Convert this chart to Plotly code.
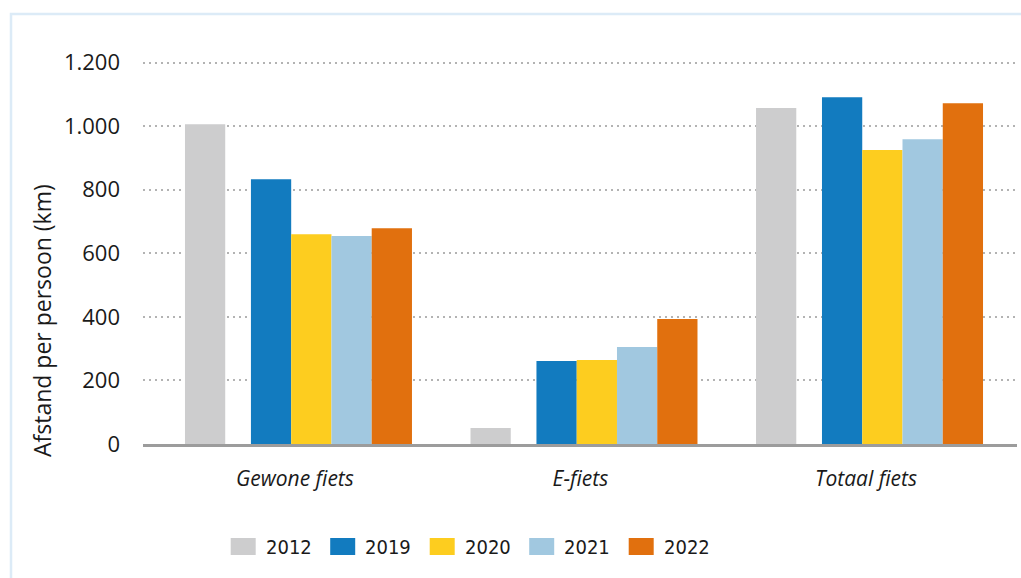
import plotly.graph_objects as go

categories = ["Gewone fiets", "E-fiets", "Totaal fiets"]
years = ["2012", "2019", "2020", "2021", "2022"]
values_2012 = [1006, 50, 1057]
values_2019 = [833, 261, 1091]
values_2020 = [660, 264, 925]
values_2021 = [654, 305, 959]
values_2022 = [679, 393, 1072]
series = [values_2012, values_2019, values_2020, values_2021, values_2022]
colors = ["#cdcdce", "#127bbf", "#fdcd1f", "#a1c8e0", "#e1700e"]
y_ticks = [0, 200, 400, 600, 800, 1000, 1200]
y_title = "Afstand per persoon (km)"

# layout geometry (pixels)
W, H = 1021, 578
ML, MR, MT, MB = 143, 4, 40, 134
PW, PH = W - ML - MR, H - MT - MB

offsets = [-0.385, -0.154, -0.013, 0.128, 0.269]
bar_width = 0.141

fig = go.Figure()
for yr, vals, col, off in zip(years, series, colors, offsets):
    fig.add_trace(go.Bar(
        x=categories, y=vals, name=yr, marker=dict(color=col, line=dict(width=0)),
        offset=off, width=bar_width, showlegend=False,
    ))

def px_x(px):
    return (px - ML) / PW

def px_y(py):
    return (H - MB - py) / PH

shapes = []
annotations = []
# outer light-blue frame
shapes.append(dict(type="rect", xref="paper", yref="paper",
                   x0=px_x(11), x1=px_x(W + 20), y0=px_y(H + 20), y1=px_y(14),
                   line=dict(color="#dcebf7", width=2.5), fillcolor="rgba(0,0,0,0)", layer="below"))

# custom legend
leg_x0, leg_step, sw_w, sw_h, leg_cy = 230.7, 99.5, 25, 17, 546.5
for i, (yr, col) in enumerate(zip(years, colors)):
    x0 = leg_x0 + i * leg_step
    shapes.append(dict(type="rect", xref="paper", yref="paper",
                       x0=px_x(x0), x1=px_x(x0 + sw_w),
                       y0=px_y(leg_cy + sw_h / 2), y1=px_y(leg_cy - sw_h / 2),
                       fillcolor=col, line=dict(width=0)))
    annotations.append(dict(xref="paper", yref="paper", x=px_x(x0 + sw_w + 8), y=px_y(leg_cy),
                            xanchor="left", yanchor="middle", showarrow=False, text=yr,
                            font=dict(family="'DejaVu Sans Condensed', 'Liberation Sans Narrow', Roboto, sans-serif",
                                      size=20, color="#1a1a1a")))

annotations.append(dict(xref="paper", yref="paper", x=px_x(42), y=px_y(321), textangle=-90,
                        xanchor="center", yanchor="middle", showarrow=False, text=y_title,
                        font=dict(family="'Open Sans', sans-serif", size=23, color="#1a1a1a")))

fig.update_layout(
    width=W, height=H,
    margin=dict(l=ML, r=MR, t=MT, b=MB, pad=0),
    paper_bgcolor="white", plot_bgcolor="white",
    separators=",.",
    barmode="overlay",
    shapes=shapes, annotations=annotations,
    showlegend=False,
    xaxis=dict(range=[-0.532, 2.529], showgrid=False, showline=True, linecolor="#9c9c9c",
               linewidth=3, ticks="", ticklabelstandoff=14,
               tickfont=dict(family="'Open Sans', sans-serif", size=21, color="#1a1a1a", style="italic")),
    yaxis=dict(range=[0, 1271], tickvals=y_ticks, tickformat=",d", showgrid=True,
               gridcolor="#b3b3b3", gridwidth=1.5, griddash="2px,4px", zeroline=False,
               showline=False, ticks="", ticklabelstandoff=22,
               tickfont=dict(family="'Open Sans', sans-serif", size=22, color="#1a1a1a")),
)

fig.write_html("out.html", config={"displayModeBar": False},
               post_script="document.body.style.margin='0px';document.body.style.overflow='hidden';")
